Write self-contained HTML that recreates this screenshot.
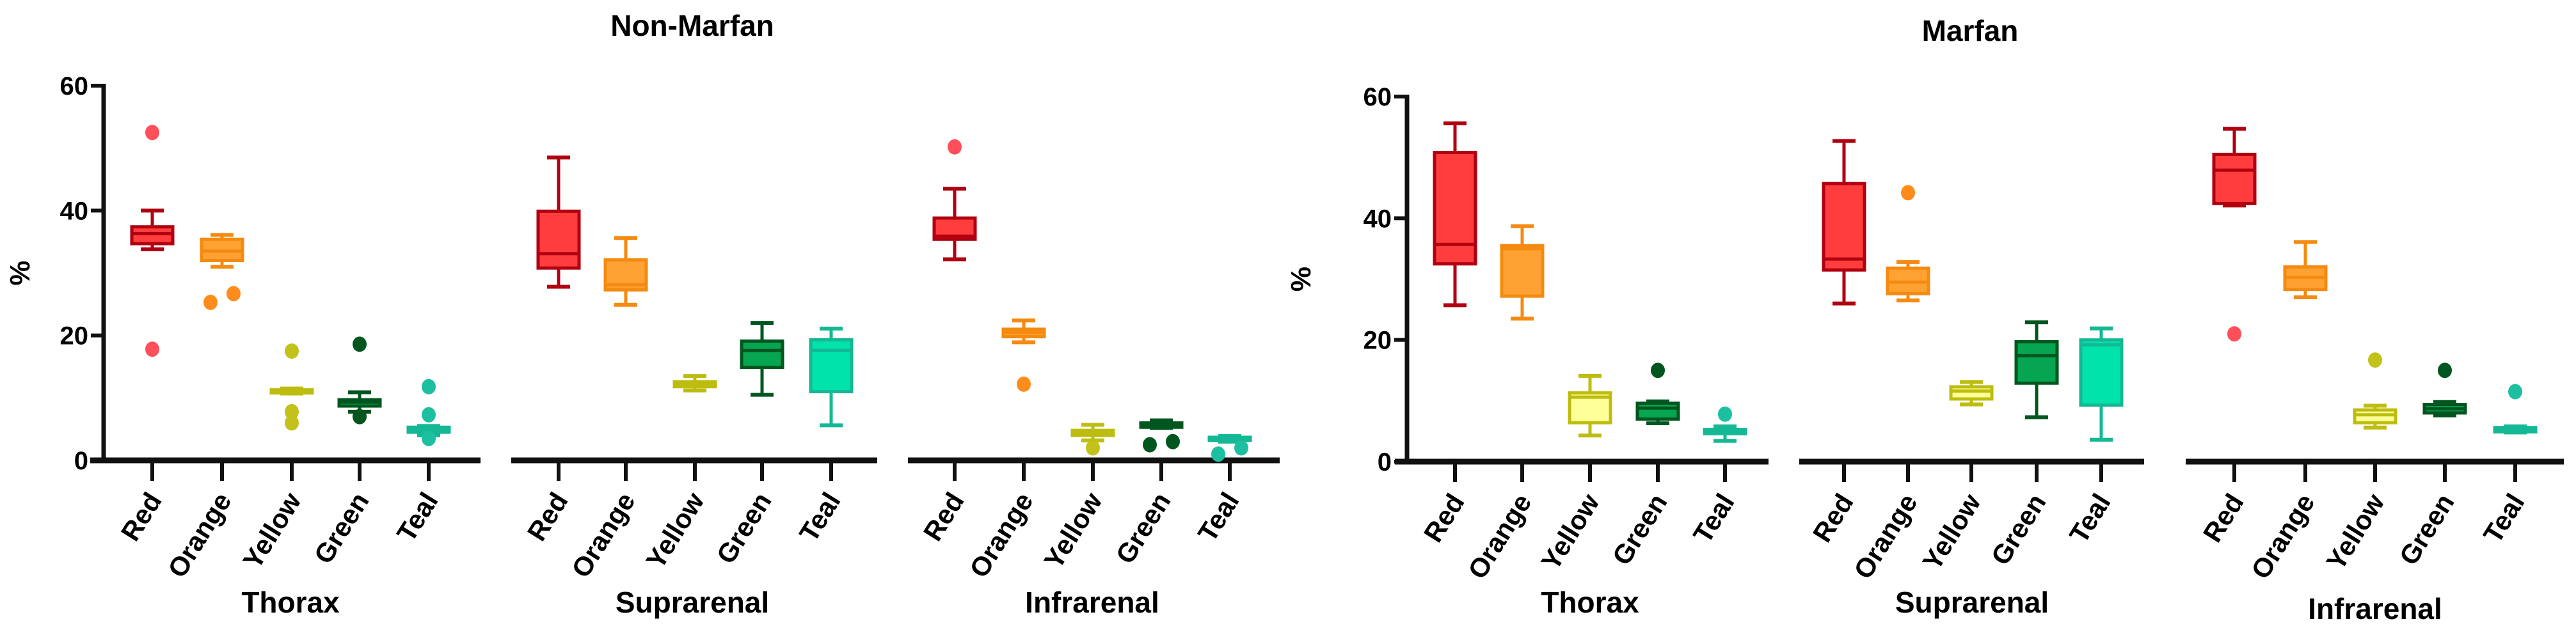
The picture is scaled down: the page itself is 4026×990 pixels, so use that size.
<!DOCTYPE html>
<html><head><meta charset="utf-8"><style>
html,body{margin:0;padding:0;background:#fff;}
svg{display:block;font-family:"Liberation Sans",Arial,sans-serif;}
</style></head><body>
<svg id="chart" width="4026" height="990" viewBox="0 0 4026 990" xmlns="http://www.w3.org/2000/svg"></svg>
<script>
const categories = ["Red","Orange","Yellow","Green","Teal"];
const sections = ["Thorax","Suprarenal","Infrarenal"];
const yTicks = [0,20,40,60];
// Non-Marfan (15 boxes: Thorax x5, Suprarenal x5, Infrarenal x5)
const nmHi  = [40,36.1,11.5,10.9,5.5, 48.5,35.6,13.5,22,21.1, 43.5,22.4,5.7,6.4,3.9];
const nmQ3  = [37.4,35.4,11.3,9.7,5.3, 39.9,32.1,12.6,19.1,19.3, 38.8,21,4.8,6.0,3.7];
const nmMed = [36.3,33.5,11,9.3,5, 33.1,28.1,12.2,17.6,17.6, 35.9,20.5,4.4,5.7,3.4];
const nmQ1  = [34.7,32,10.8,8.7,4.5, 30.8,27.3,11.8,14.9,11, 35.4,19.8,4.0,5.3,3.2];
const nmLo  = [33.8,31,10.7,7.8,4, 27.8,24.9,11.2,10.5,5.6, 32.2,18.9,3.2,5.2,3.0];
const nmOutIdx = [0,0,1,1,2,2,2,3,3,4,4,4,10,11,12,13,13,14,14];
const nmOutVal = [52.5,17.8,25.3,26.7,17.5,7.8,6,18.6,7,11.8,7.3,3.5,50.2,12.2,2,2.5,3.0,1,2];
// Marfan
const mHi  = [55.6,38.7,14.1,9.9,5.8, 52.7,32.8,13.1,22.9,21.9, 54.7,36.1,9.2,9.8,5.8];
const mQ3  = [50.8,35.5,11.3,9.6,5.3, 45.7,31.8,12.3,19.7,20, 50.5,32,8.5,9.4,5.6];
const mMed = [35.7,35,10.6,8.8,5, 33.3,29.5,11.6,17.4,19.2, 47.9,30.3,7.7,8.7,5.2];
const mQ1  = [32.5,27.2,6.4,7,4.6, 31.5,27.6,10.3,12.9,9.3, 42.4,28.3,6.4,8.0,4.9];
const mLo  = [25.7,23.5,4.3,6.3,3.4, 26,26.5,9.4,7.3,3.6, 42.1,27,5.6,7.6,4.8];
const mOutIdx = [3,4,6,10,12,13,14];
const mOutVal = [15,7.8,44.2,21,16.7,15,11.5];

const fills   = ["#ff3d3d","#ffa233","#f4f06a","#05a552","#00e3ab"];
const fillsM2 = ["#ff3d3d","#ffa233","#ffff99","#05a552","#00e3ab"];
const strokes = ["#b00010","#f58a10","#bdbd10","#00561e","#14b894"];
const dots    = ["#ff4f5a","#ff8c1a","#c3c21a","#00561e","#1cc0a0"];

const NS="http://www.w3.org/2000/svg";
const svg=document.getElementById('chart');
function mk(tag,attrs,parent){const e=document.createElementNS(NS,tag);for(const k in attrs)e.setAttribute(k,attrs[k]);(parent||svg).appendChild(e);return e;}

function drawChart(cfg){
  const g=mk('g',{});
  
  
  const y=v=>cfg.y0-(v/60)*(cfg.y0-cfg.y60);
  const t=mk('text',{x:cfg.titleX,y:cfg.titleY,'font-size':46,'font-weight':'bold','text-anchor':'middle'},g);
  t.textContent=cfg.title;
  
  
  const yl=mk('text',{x:0,y:0,'font-size':44,'font-weight':'bold','text-anchor':'middle',transform:`translate(${cfg.pctX},${(cfg.y0+cfg.y60)/2}) rotate(-90)`},g);
  yl.textContent='%';
  
  
  const ya=mk('line',{x1:cfg.axX,x2:cfg.axX,y1:cfg.y60-3,y2:cfg.y0,stroke:'#111','stroke-width':7},g);
  
  
  yTicks.forEach(v=>{
    const tk=mk('line',{x1:cfg.axX-20,x2:cfg.axX,y1:y(v),y2:y(v),stroke:'#111','stroke-width':6},g);
    
    
    const tl=mk('text',{x:cfg.axX-24,y:y(v)+14,'font-size':40,'font-weight':'bold','text-anchor':'end'},g);
    tl.textContent=v;
    
    
  });
  sections.forEach((s,si)=>{
    const [a,b]=cfg.panels[si];
    const xl=mk('line',{x1:a,x2:b,y1:cfg.y0,y2:cfg.y0,stroke:'#111','stroke-width':9},g);
    
    
    const sl=mk('text',{x:cfg.secX[si],y:cfg.secY[si],'font-size':46,'font-weight':'bold','text-anchor':'middle'},g);
    sl.textContent=s;
    
    
    categories.forEach((c,ci)=>{
      const i=si*5+ci, x=cfg.xs[i];
      const tk=mk('line',{x1:x,x2:x,y1:cfg.y0,y2:cfg.y0+32,stroke:'#111','stroke-width':6},g);
      
      
      const cl=mk('text',{x:0,y:0,'font-size':42,'font-weight':'bold','text-anchor':'end',transform:`translate(${x+16},${cfg.y0+62}) rotate(-58)`},g);
      cl.textContent=c;
      
      
      const bw=64, cw=36, sc=strokes[ci];
      const bg=mk('g',{},g);
      
      
      mk('line',{x1:x,x2:x,y1:y(cfg.hi[i]),y2:y(cfg.lo[i]),stroke:sc,'stroke-width':5},bg);
      mk('line',{x1:x-cw/2,x2:x+cw/2,y1:y(cfg.hi[i]),y2:y(cfg.hi[i]),stroke:sc,'stroke-width':6},bg);
      mk('line',{x1:x-cw/2,x2:x+cw/2,y1:y(cfg.lo[i]),y2:y(cfg.lo[i]),stroke:sc,'stroke-width':6},bg);
      const top=y(cfg.q3[i]), bot=y(cfg.q1[i]);
      mk('rect',{x:x-bw/2,y:top,width:bw,height:Math.max(bot-top,4),fill:cfg.fills[ci],stroke:sc,'stroke-width':5},bg);
      mk('line',{x1:x-bw/2,x2:x+bw/2,y1:y(cfg.med[i]),y2:y(cfg.med[i]),stroke:sc,'stroke-width':5},bg);
    });
  });
  cfg.outIdx.forEach((idx,k)=>{
    const ci=idx%5;
    const near=cfg.outIdx.filter((v,j)=>v===idx && Math.abs(cfg.outVal[j]-cfg.outVal[k])<1.5).length>1;
    const before=cfg.outIdx.slice(0,k).filter((v,j)=>v===idx && Math.abs(cfg.outVal[j]-cfg.outVal[k])<1.5).length;
    const off = near ? (before?18:-18) : 0;
    const d=mk('ellipse',{cx:cfg.xs[idx]+off,cy:y(cfg.outVal[k]),rx:11,ry:12,fill:dots[ci]},g);
    
    
  });
}

drawChart({name:'non-marfan-chart',title:'Non-Marfan',titleX:1082,titleY:56,pctX:46,
  axX:162,y0:720,y60:134,
  panels:[[141,751],[799,1371],[1419,2000]],
  xs:[238,347,456,562,670, 873,978,1086,1191,1299, 1492,1600,1708,1815,1922],
  secX:[454,1082,1707],secY:[958,958,958],
  hi:nmHi,q3:nmQ3,med:nmMed,q1:nmQ1,lo:nmLo,outIdx:nmOutIdx,outVal:nmOutVal,fills:fills});
drawChart({name:'marfan-chart',title:'Marfan',titleX:3079,titleY:64,pctX:2048,
  axX:2199,y0:722,y60:151,
  panels:[[2180,2764],[2812,3351],[3416,4007]],
  xs:[2274,2379,2485,2591,2696, 2882,2982,3081,3183,3284, 3492,3603,3712,3821,3931],
  secX:[2485,3082,3712],secY:[958,958,968],
  hi:mHi,q3:mQ3,med:mMed,q1:mQ1,lo:mLo,outIdx:mOutIdx,outVal:mOutVal,fills:fillsM2});
</script>
</body></html>
